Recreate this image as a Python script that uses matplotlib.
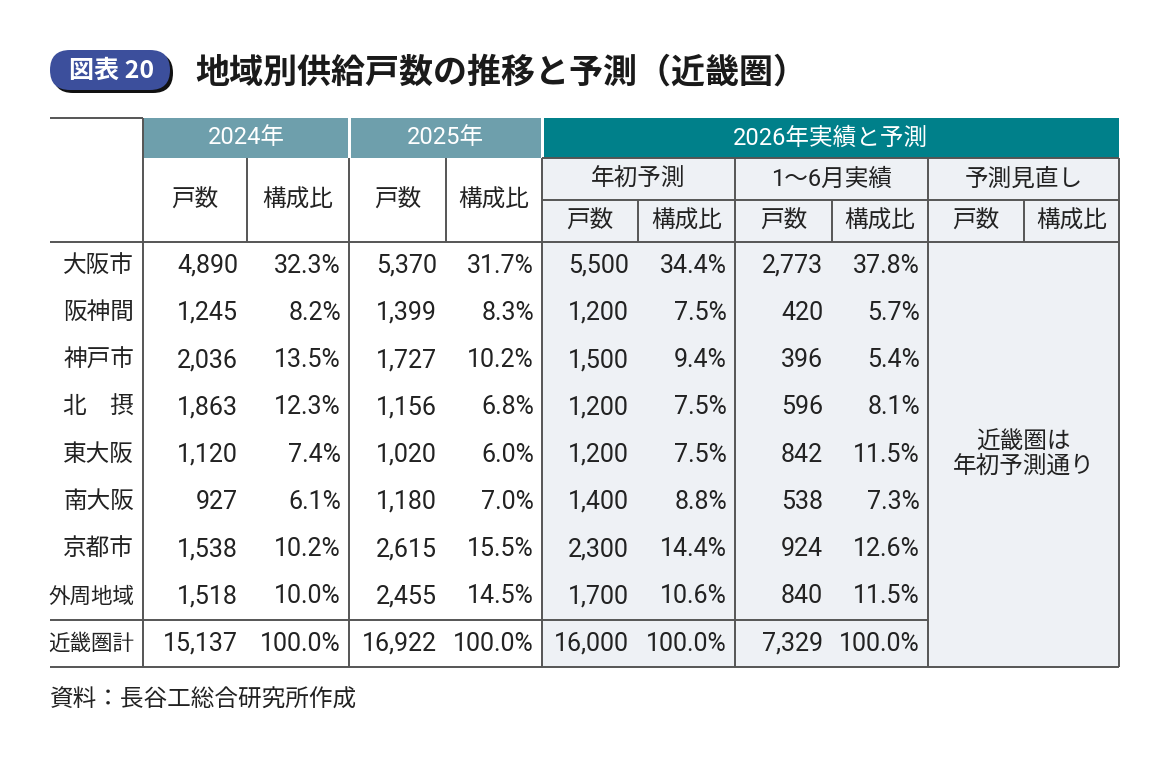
import matplotlib
matplotlib.use("Agg")
import matplotlib.pyplot as plt
from matplotlib.patches import Rectangle, FancyBboxPatch

plt.rcParams['font.family'] = ['Noto Sans CJK JP', 'DejaVu Sans']

# ---------------- data ----------------
title = "地域別供給戸数の推移と予測（近畿圏）"
badge = "図表 20"
source = "資料：長谷工総合研究所作成"

regions = ['大阪市', '阪神間', '神戸市', '北　摂', '東大阪', '南大阪', '京都市', '外周地域']
total_label = '近畿圏計'

units_2024 = [4890, 1245, 2036, 1863, 1120, 927, 1538, 1518]
share_2024 = [32.3, 8.2, 13.5, 12.3, 7.4, 6.1, 10.2, 10.0]
units_2025 = [5370, 1399, 1727, 1156, 1020, 1180, 2615, 2455]
share_2025 = [31.7, 8.3, 10.2, 6.8, 6.0, 7.0, 15.5, 14.5]
units_2026_initial = [5500, 1200, 1500, 1200, 1200, 1400, 2300, 1700]
share_2026_initial = [34.4, 7.5, 9.4, 7.5, 7.5, 8.8, 14.4, 10.6]
units_2026_h1 = [2773, 420, 396, 596, 842, 538, 924, 840]
share_2026_h1 = [37.8, 5.7, 5.4, 8.1, 11.5, 7.3, 12.6, 11.5]

totals_units = [15137, 16922, 16000, 7329]
totals_share = [100.0, 100.0, 100.0, 100.0]

year_headers = ['2024年', '2025年', '2026年実績と予測']
sub_headers_2026 = ['年初予測', '1～6月実績', '予測見直し']
col_headers = ['戸数', '構成比']
revision_note = "近畿圏は\n年初予測通り"

# ---------------- layout (pixels) ----------------
W, H = 1171, 764
fig = plt.figure(figsize=(W / 100, H / 100), dpi=100)
ax = fig.add_axes([0, 0, 1, 1])
ax.set_xlim(0, W)
ax.set_ylim(H, 0)
ax.axis('off')

LINE = '#555555'
TXT = '#222222'
HEAD1 = '#6e9fac'
HEAD2 = '#00808a'
LIGHT = '#eef1f5'
NUMFONT = ['Roboto', 'Noto Sans CJK JP', 'DejaVu Sans']

x_left = 50
cols = [143, 247, 349, 446, 542, 638, 735, 832, 928, 1024, 1119]
y_top, y_h1, y_h2, y_h3 = 118, 158, 200, 242
row_h = 47.25
n = len(regions)
y_total = y_h3 + n * row_h
y_bottom = y_total + row_h

# fills
ax.add_patch(Rectangle((cols[4], y_h1), cols[10] - cols[4], y_bottom - y_h1,
                       facecolor=LIGHT, edgecolor='none', zorder=1))
ax.add_patch(Rectangle((cols[0], y_top), cols[2] - cols[0] - 1.5, y_h1 - y_top,
                       facecolor=HEAD1, edgecolor='none', zorder=2))
ax.add_patch(Rectangle((cols[2] + 1.5, y_top), cols[4] - cols[2] - 3, y_h1 - y_top,
                       facecolor=HEAD1, edgecolor='none', zorder=2))
ax.add_patch(Rectangle((cols[4] + 1.5, y_top), cols[10] - cols[4] - 1.5, y_h1 - y_top,
                       facecolor=HEAD2, edgecolor='none', zorder=2))

lw = 1.4
def hline(y, x0, x1):
    ax.plot([x0, x1], [y, y], color=LINE, lw=lw, solid_capstyle='butt', zorder=3)
def vline(x, y0, y1):
    ax.plot([x, x], [y0, y1], color=LINE, lw=lw, solid_capstyle='butt', zorder=3)

hline(y_top, x_left, cols[0])
hline(y_h1, cols[4], cols[10])
hline(y_h2, cols[4], cols[10])
hline(y_h3, x_left, cols[10])
hline(y_total, x_left, cols[8])
hline(y_bottom, x_left, cols[10])

vline(cols[0], y_top, y_bottom)
for c in (cols[1], cols[3]):
    vline(c, y_h1, y_h3)
for c in (cols[2], cols[4], cols[6], cols[8], cols[10]):
    vline(c, y_h1, y_bottom)
for c in (cols[5], cols[7], cols[9]):
    vline(c, y_h2, y_h3)

# header text
hfs = 17
ax.text((cols[0] + cols[2]) / 2, (y_top + y_h1) / 2, year_headers[0], color='white',
        family=NUMFONT, fontsize=hfs, ha='center', va='center', zorder=4)
ax.text((cols[2] + cols[4]) / 2, (y_top + y_h1) / 2, year_headers[1], color='white',
        family=NUMFONT, fontsize=hfs, ha='center', va='center', zorder=4)
ax.text((cols[4] + cols[10]) / 2, (y_top + y_h1) / 2, year_headers[2], color='white',
        family=NUMFONT, fontsize=hfs, ha='center', va='center', zorder=4)
for k in range(4):
    ax.text((cols[k] + cols[k + 1]) / 2, (y_h1 + y_h3) / 2, col_headers[k % 2], color=TXT,
            fontsize=hfs, ha='center', va='center', zorder=4)
for k, lab in enumerate(sub_headers_2026):
    ax.text((cols[4 + 2 * k] + cols[6 + 2 * k]) / 2, (y_h1 + y_h2) / 2, lab, color=TXT,
            family=NUMFONT, fontsize=hfs, ha='center', va='center', zorder=4)
for k in range(6):
    ax.text((cols[4 + k] + cols[5 + k]) / 2, (y_h2 + y_h3) / 2, col_headers[k % 2], color=TXT,
            fontsize=hfs, ha='center', va='center', zorder=4)

# body
nfs = 18
series = [(units_2024, share_2024), (units_2025, share_2025),
          (units_2026_initial, share_2026_initial), (units_2026_h1, share_2026_h1)]
pad = 8
for i, reg in enumerate(regions + [total_label]):
    yc = y_h3 + row_h * (i + 0.5)
    ax.text(cols[0] - 9, yc, reg, fontsize=17 if len(reg) <= 3 else 15.5, color=TXT,
            ha='right', va='center', zorder=4)
    for s, (u, sh) in enumerate(series):
        if i < n:
            uv, sv = u[i], sh[i]
        else:
            uv, sv = totals_units[s], totals_share[s]
        ax.text(cols[2 * s + 1] - pad - 1, yc, f"{uv:,}", family=NUMFONT, fontsize=nfs,
                color=TXT, ha='right', va='center', zorder=4)
        ax.text(cols[2 * s + 2] - pad, yc, f"{sv:.1f}%", family=NUMFONT, fontsize=nfs,
                color=TXT, ha='right', va='center', zorder=4)

ax.text((cols[8] + cols[10]) / 2, y_h3 + row_h * 4.5, revision_note, fontsize=17,
        color=TXT, ha='center', va='center', linespacing=1.15, zorder=4)

# title badge
ax.add_patch(FancyBboxPatch((53, 53), 120, 40, boxstyle="round,pad=0,rounding_size=20",
                            facecolor='#111111', edgecolor='none', zorder=1))
ax.add_patch(FancyBboxPatch((50, 50), 120, 40, boxstyle="round,pad=0,rounding_size=20",
                            facecolor='#3c4f9c', edgecolor='none', zorder=2))
ax.text(112, 71, badge, color='white', fontsize=18, fontweight='bold',
        ha='center', va='center', zorder=3)
ax.text(195, 72, title, color='#1a1a1a', fontsize=24.5, fontweight='bold',
        ha='left', va='center', zorder=3)

ax.text(x_left, 700, source, color=TXT, fontsize=17, ha='left', va='center')

fig.savefig('out.png', dpi=100)
